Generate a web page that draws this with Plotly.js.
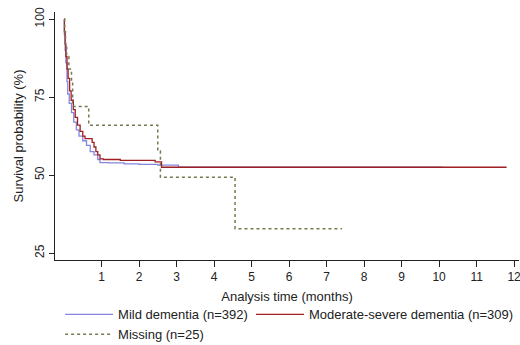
<!DOCTYPE html>
<html>
<head>
<meta charset="utf-8">
<script src="https://cdn.plot.ly/plotly-3.0.1.min.js"></script>
<style>html,body{margin:0;padding:0;background:#fff;}#chart{width:520px;height:345px;}</style>
</head>
<body>
<div id="chart"></div>
<script>
// Kaplan-Meier step data (time in months, survival %)
const mildTime = [0, 0.01, 0.03, 0.05, 0.08, 0.10, 0.14, 0.20, 0.26, 0.33, 0.40, 0.50, 0.60, 0.70, 0.80, 0.90, 0.96, 1.20, 1.60, 2.00, 2.50, 3.05, 10.1];
const mildSurv = [100, 95, 90, 86, 80, 76, 73, 70, 67, 64.5, 62.5, 61, 59.5, 57.5, 56.5, 55, 54, 53.9, 53.6, 53.4, 53.2, 52.5, 52.5];

const modTime = [0, 0.01, 0.03, 0.05, 0.08, 0.11, 0.15, 0.19, 0.25, 0.30, 0.36, 0.43, 0.50, 0.56, 0.75, 0.80, 0.85, 0.90, 0.96, 1.05, 1.50, 2.43, 2.60, 11.8];
const modSurv = [100, 96, 92, 88, 84, 81, 77, 74, 71, 68.5, 66, 64, 62.5, 61.7, 60.5, 59, 57.5, 56.5, 55.2, 55, 54.7, 54.2, 52.5, 52.5];

const missTime = [0, 0.02, 0.04, 0.07, 0.13, 0.20, 0.23, 0.66, 2.50, 2.57, 4.56, 7.41];
const missSurv = [100, 96, 92, 88, 84, 80, 72, 66, 57.7, 49.3, 32.8, 32.8];

const seriesNames = ["Mild dementia (n=392)", "Moderate-severe dementia (n=309)", "Missing (n=25)"];
const xTicks = [1,2,3,4,5,6,7,8,9,10,11,12];
const yTicks = [25,50,75,100];

const traces = [
  {x: mildTime, y: mildSurv, name: seriesNames[0], mode: 'lines', legend: 'legend', line: {shape: 'hv', color: '#8585e0', width: 1.3}},
  {x: modTime, y: modSurv, name: seriesNames[1], mode: 'lines', legend: 'legend2', line: {shape: 'hv', color: '#9e1f24', width: 1.3}},
  {x: missTime, y: missSurv, name: seriesNames[2], mode: 'lines', legend: 'legend', line: {shape: 'hv', color: '#767a4c', width: 1.5, dash: 'dot'}}
];

const font = {family: 'Liberation Sans, Arial, sans-serif', size: 12, color: '#222'};
const bigFont = {family: 'Liberation Sans, Arial, sans-serif', size: 13, color: '#222'};

const legendBase = {
  orientation: 'v', xanchor: 'left', y: -0.159, yanchor: 'top',
  font: bigFont, itemwidth: 48, tracegroupgap: 0, bgcolor: 'rgba(0,0,0,0)', traceorder: 'normal'
};

const layout = {
  width: 520, height: 345,
  margin: {l: 55, r: 1, t: 12, b: 85, autoexpand: false},
  paper_bgcolor: '#fff', plot_bgcolor: '#fff',
  font: font,
  showlegend: true,
  xaxis: {
    range: [-0.24, 12.13], tickvals: xTicks, ticktext: xTicks.map(String),
    showgrid: false, zeroline: false, showline: true, linecolor: '#222', linewidth: 1,
    ticks: 'outside', ticklen: 6, tickcolor: '#222', ticklabelstandoff: 0, ticklabeloverflow: 'allow',
    tickfont: font,
    title: {text: 'Analysis time (months)', font: bigFont, standoff: 8}
  },
  yaxis: {
    range: [22.76, 102.3], tickvals: yTicks, ticktext: yTicks.map(String),
    showgrid: false, zeroline: false, showline: true, linecolor: '#222', linewidth: 1,
    ticks: 'outside', ticklen: 5, tickcolor: '#222', tickangle: -90, tickfont: font,
    title: {text: 'Survival probability (%)', font: bigFont, standoff: 6}
  },
  legend: Object.assign({}, legendBase, {x: 0.011}),
  legend2: Object.assign({}, legendBase, {x: 0.4224})
};

Plotly.newPlot('chart', traces, layout, {displayModeBar: false, staticPlot: true});
</script>
</body>
</html>
